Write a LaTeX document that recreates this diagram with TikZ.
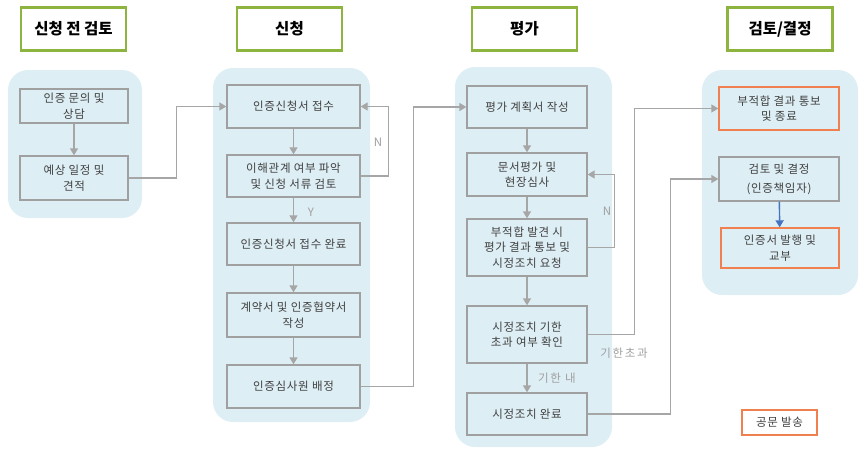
\documentclass[tikz,border=0pt]{standalone}
\usepackage{fontspec}
\setmainfont{Noto Sans CJK KR}
\newfontfamily\krspaced{Noto Sans CJK KR}[LetterSpace=6]
\newfontfamily\krlab{Noto Sans CJK KR}[LetterSpace=14]
\usetikzlibrary{arrows.meta,positioning}
\definecolor{panelfill}{HTML}{DDEEF4}
\definecolor{boxline}{HTML}{A0A0A0}
\definecolor{connline}{HTML}{A6A6A6}
\definecolor{txt}{HTML}{404040}
\definecolor{lbl}{HTML}{A0A0A0}
\definecolor{hdrgreen}{HTML}{8DB43E}
\definecolor{orangeline}{HTML}{F08050}
\definecolor{bluearrow}{HTML}{4472C4}
\tikzset{
  panel/.style={fill=panelfill, draw=none, rounded corners=20pt},
  hdr/.style={draw=hdrgreen, line width=2.2pt, fill=white, minimum width=105pt, minimum height=43pt, font=\fontsize{15.5}{17}\selectfont\bfseries, text=black, inner sep=0pt},
  fbox/.style={draw=boxline, line width=1.4pt, fill=panelfill, align=center, text=txt, font=\krspaced\fontsize{11.5}{15.5}\selectfont, inner sep=0pt},
  obox/.style={fbox, draw=orangeline},
  conn/.style={draw=connline, line width=1.4pt},
  arr/.style={conn, -{Triangle[length=7pt,width=8pt]}},
  lab/.style={text=lbl, font=\krlab\fontsize{11.5}{13}\selectfont, inner sep=0pt}
}
\begin{document}
\begin{tikzpicture}[x=1pt,y=-1pt]
\useasboundingbox (0,0) rectangle (864,453);
% headers
\node[hdr] (h1) at (73.5,29) {신청 전 검토};
\node[hdr] (h2) at (289.5,29) {신청};
\node[hdr] (h3) at (524.5,29) {평가};
\node[hdr] (h4) at (780,29) {검토/결정};
% panels
\fill[panel] (8,70) rectangle (142,218);
\fill[panel] (213,68) rectangle (370,422);
\fill[panel] (455,67) rectangle (612,447);
\fill[panel] (702,70) rectangle (858,295);
% panel 1
\node[fbox, minimum width=108pt, minimum height=34pt] (p1a) at (74,106) {인증 문의 및\\상담};
\node[fbox, minimum width=108pt, minimum height=44pt] (p1b) at (74,178) {예상 일정 및\\견적};
% panel 2
\node[fbox, minimum width=133pt, minimum height=43pt] (p2a) at (293.5,106.5) {인증신청서 접수};
\node[fbox, minimum width=133pt, minimum height=42pt] (p2b) at (293.5,176) {이해관계 여부 파악\\및 신청 서류 검토};
\node[fbox, minimum width=133pt, minimum height=42pt] (p2c) at (293.5,244) {인증신청서 접수 완료};
\node[fbox, minimum width=133pt, minimum height=44pt] (p2d) at (293.5,315) {계약서 및 인증협약서\\작성};
\node[fbox, minimum width=133pt, minimum height=43pt] (p2e) at (293.5,386.5) {인증심사원 배정};
% panel 3
\node[fbox, minimum width=120pt, minimum height=42pt] (p3a) at (527,107) {평가 계획서 작성};
\node[fbox, minimum width=120pt, minimum height=43pt] (p3b) at (527,174.5) {문서평가 및\\현장심사};
\node[fbox, minimum width=120pt, minimum height=57pt] (p3c) at (527,247.5) {부적합 발견 시\\평가 결과 통보 및\\시정조치 요청};
\node[fbox, minimum width=120pt, minimum height=57pt] (p3d) at (527,334.5) {시정조치 기한\\초과 여부 확인};
\node[fbox, minimum width=120pt, minimum height=42pt] (p3e) at (527,414) {시정조치 완료};
% panel 4
\node[obox, minimum width=120pt, minimum height=43pt] (p4a) at (779,108.5) {부적합 결과 통보\\및 종료};
\node[fbox, minimum width=120pt, minimum height=44pt, font=\krspaced\fontsize{11.5}{19}\selectfont] (p4b) at (779,179) {검토 및 결정\\(인증책임자)};
\node[obox, minimum width=118pt, minimum height=40pt] (p4c) at (780,248) {인증서 발행 및\\교부};
% legend
\node[obox, fill=white, minimum width=75pt, minimum height=25pt] (gm) at (779.5,422.5) {공문 발송};
% vertical arrows
\draw[arr] (p1a) -- (p1b);
\draw[arr] (p2a) -- (p2b);
\draw[arr] (p2b) -- (p2c);
\draw[arr] (p2c) -- (p2d);
\draw[arr] (p2d) -- (p2e);
\draw[arr] (p3a) -- (p3b);
\draw[arr] (p3b) -- (p3c);
\draw[arr] (p3c) -- (p3d);
\draw[arr] (p3d) -- (p3e);
\draw[conn, draw=bluearrow, -{Triangle[length=7pt,width=8pt]}] (p4b) -- (p4c);
% cross connectors
\draw[arr] (p1b.east) -- ++(48,0) |- (p2a.west);
\draw[arr] (p2b.east) -- ++(28,0) |- (p2a.east);
\draw[arr] (p2e.east) -- ++(53,0) |- (p3a.west);
\draw[arr] (p3c.east) -- ++(27,0) |- (p3b.east);
\draw[arr] (p3d.east) -- ++(47,0) |- (p4a.west);
\draw[arr] (p3e.east) -- ++(83,0) |- (p4b.west);
% labels
\node[lab] (lN1) at (378,142) {N};
\node[lab] (lY) at (311,212) {Y};
\node[lab] (lN2) at (607,211) {N};
\node[lab] (lover) at (624,353) {기한초과};
\node[lab] (lin) at (557,378) {기한 내};
\end{tikzpicture}
\end{document}
